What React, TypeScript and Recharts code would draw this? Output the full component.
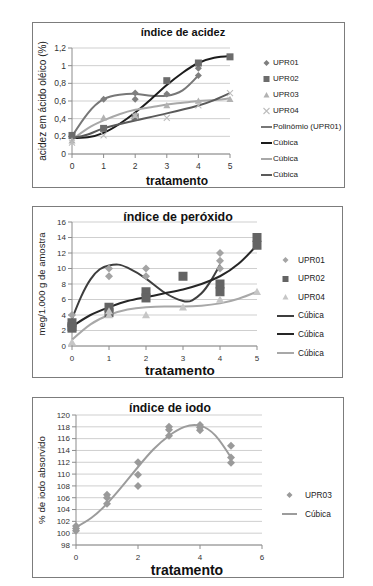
import React from 'react';
import { ComposedChart, Scatter, Line, XAxis, YAxis, CartesianGrid } from 'recharts';

const FONT = '"Liberation Sans", Arial, sans-serif';

type Pt = { x: number; y: number };

// índice de acidez
const acidezXTicks = [0, 1, 2, 3, 4, 5];
const acidezYTicks = [0, 0.2, 0.4, 0.6, 0.8, 1, 1.2];
const acidezUpr01: Pt[] = [
  { x: 0, y: 0.2 }, { x: 1, y: 0.62 }, { x: 2, y: 0.69 }, { x: 2, y: 0.62 },
  { x: 3, y: 0.68 }, { x: 4, y: 0.97 }, { x: 4, y: 0.89 },
];
const acidezUpr02: Pt[] = [
  { x: 0, y: 0.21 }, { x: 1, y: 0.29 }, { x: 2, y: 0.42 }, { x: 3, y: 0.83 }, { x: 4, y: 1.03 }, { x: 5, y: 1.1 },
];
const acidezUpr03: Pt[] = [
  { x: 0, y: 0.15 }, { x: 1, y: 0.41 }, { x: 2, y: 0.44 }, { x: 3, y: 0.55 }, { x: 4, y: 0.6 }, { x: 5, y: 0.62 },
];
const acidezUpr04: Pt[] = [
  { x: 0, y: 0.13 }, { x: 1, y: 0.21 }, { x: 2, y: 0.43 }, { x: 3, y: 0.41 }, { x: 4, y: 0.55 }, { x: 5, y: 0.69 },
];
const acidezPoli01: Pt[] = [
  { x: 0, y: 0.2 }, { x: 0.5, y: 0.46 }, { x: 1, y: 0.62 }, { x: 1.5, y: 0.67 }, { x: 2, y: 0.68 },
  { x: 2.5, y: 0.66 }, { x: 3, y: 0.66 }, { x: 3.5, y: 0.72 }, { x: 4, y: 0.89 },
];
const acidezCub02: Pt[] = [
  { x: 0, y: 0.18 }, { x: 0.5, y: 0.19 }, { x: 1, y: 0.24 }, { x: 1.5, y: 0.34 }, { x: 2, y: 0.47 }, { x: 2.5, y: 0.62 },
  { x: 3, y: 0.78 }, { x: 3.5, y: 0.92 }, { x: 4, y: 1.03 }, { x: 4.5, y: 1.09 }, { x: 5, y: 1.11 },
];
const acidezCub03: Pt[] = [
  { x: 0, y: 0.16 }, { x: 0.5, y: 0.29 }, { x: 1, y: 0.38 }, { x: 1.5, y: 0.45 }, { x: 2, y: 0.5 }, { x: 2.5, y: 0.53 },
  { x: 3, y: 0.56 }, { x: 3.5, y: 0.58 }, { x: 4, y: 0.6 }, { x: 4.5, y: 0.61 }, { x: 5, y: 0.63 },
];
const acidezCub04: Pt[] = [
  { x: 0, y: 0.18 }, { x: 0.5, y: 0.22 }, { x: 1, y: 0.29 }, { x: 2, y: 0.38 }, { x: 3, y: 0.46 },
  { x: 4, y: 0.55 }, { x: 4.5, y: 0.61 }, { x: 5, y: 0.69 },
];

// índice de peróxido
const peroxXTicks = [0, 1, 2, 3, 4, 5];
const peroxYTicks = [0, 2, 4, 6, 8, 10, 12, 14, 16];
const peroxUpr01: Pt[] = [
  { x: 0, y: 4 }, { x: 1, y: 10 }, { x: 1, y: 9 }, { x: 2, y: 10 }, { x: 2, y: 9 },
  { x: 4, y: 12 }, { x: 4, y: 11 }, { x: 4, y: 10 },
];
const peroxUpr02: Pt[] = [
  { x: 0, y: 3 }, { x: 0, y: 2.5 }, { x: 0, y: 2.3 }, { x: 1, y: 5 }, { x: 1, y: 4.3 }, { x: 2, y: 7 }, { x: 2, y: 6.2 },
  { x: 3, y: 9 }, { x: 4, y: 8 }, { x: 4, y: 7 }, { x: 5, y: 14 }, { x: 5, y: 13 },
];
const peroxUpr04: Pt[] = [
  { x: 0, y: 0.5 }, { x: 1, y: 4.5 }, { x: 1, y: 4 }, { x: 2, y: 4 }, { x: 3, y: 5 }, { x: 4, y: 6 }, { x: 5, y: 7 },
];
const peroxCub01: Pt[] = [
  { x: 0, y: 3.5 }, { x: 0.25, y: 6.4 }, { x: 0.5, y: 8.6 }, { x: 0.75, y: 9.9 }, { x: 1, y: 10.4 }, { x: 1.25, y: 10.5 },
  { x: 1.5, y: 10.1 }, { x: 2, y: 8.7 }, { x: 2.5, y: 6.9 }, { x: 3, y: 5.8 }, { x: 3.25, y: 5.9 }, { x: 3.5, y: 6.8 },
  { x: 3.75, y: 8.4 }, { x: 4, y: 10.5 },
];
const peroxCub02: Pt[] = [
  { x: 0, y: 2.5 }, { x: 0.5, y: 4 }, { x: 1, y: 5 }, { x: 1.5, y: 5.8 }, { x: 2, y: 6.3 }, { x: 2.5, y: 6.8 },
  { x: 3, y: 7.3 }, { x: 3.5, y: 8 }, { x: 4, y: 9 }, { x: 4.5, y: 10.6 }, { x: 5, y: 13 },
];
const peroxCub04: Pt[] = [
  { x: 0, y: 0.8 }, { x: 0.5, y: 2.8 }, { x: 1, y: 4 }, { x: 1.5, y: 4.7 }, { x: 2, y: 5 }, { x: 2.5, y: 5.1 },
  { x: 3, y: 5.1 }, { x: 3.5, y: 5.2 }, { x: 4, y: 5.5 }, { x: 4.5, y: 6.1 }, { x: 5, y: 7 },
];

// índice de iodo
const iodoXTicks = [0, 2, 4, 6];
const iodoYTicks = [98, 100, 102, 104, 106, 108, 110, 112, 114, 116, 118, 120];
const iodoUpr03: Pt[] = [
  { x: 0, y: 101.2 }, { x: 0, y: 100.8 }, { x: 0, y: 100.4 }, { x: 1, y: 106.5 }, { x: 1, y: 106 }, { x: 1, y: 105 },
  { x: 2, y: 112 }, { x: 2, y: 109.9 }, { x: 2, y: 108 }, { x: 3, y: 118 }, { x: 3, y: 117.5 }, { x: 3, y: 116.5 },
  { x: 4, y: 118.3 }, { x: 4, y: 117.9 }, { x: 4, y: 117.4 }, { x: 5, y: 114.8 }, { x: 5, y: 112.8 }, { x: 5, y: 111.9 },
];
const iodoCub03: Pt[] = [
  { x: 0, y: 101 }, { x: 0.5, y: 102.6 }, { x: 1, y: 105 }, { x: 1.5, y: 108 }, { x: 2, y: 111.2 }, { x: 2.5, y: 114.2 },
  { x: 3, y: 116.5 }, { x: 3.5, y: 118 }, { x: 4, y: 118.2 }, { x: 4.5, y: 116.5 }, { x: 5, y: 112.8 },
];

const comma = (v: number) => String(v).replace('.', ',');

function marker(kind: string, size: number, color: string) {
  return (p: any) => {
    const { cx, cy } = p;
    if (cx == null || cy == null) return <g />;
    const s = size / 2;
    if (kind === 'diamond')
      return <path d={`M${cx},${cy - s}L${cx + s},${cy}L${cx},${cy + s}L${cx - s},${cy}Z`} fill={color} />;
    if (kind === 'square') return <rect x={cx - s} y={cy - s} width={size} height={size} fill={color} />;
    if (kind === 'triangle')
      return <path d={`M${cx},${cy - s}L${cx + s},${cy + s * 0.8}L${cx - s},${cy + s * 0.8}Z`} fill={color} />;
    return (
      <path
        d={`M${cx - s},${cy - s}L${cx + s},${cy + s}M${cx + s},${cy - s}L${cx - s},${cy + s}`}
        stroke={color}
        strokeWidth={1.1}
        fill="none"
      />
    );
  };
}

type ScatterDef = { name: string; data: Pt[]; kind: string; size: number; color: string };
type LineDef = { name: string; data: Pt[]; color: string; width: number };

type PanelProps = {
  box: { left: number; top: number; width: number; height: number };
  margin: { top: number; right: number };
  yAxisWidth: number;
  xAxisHeight: number;
  xDomain: [number, number];
  xTicks: number[];
  yDomain: [number, number];
  yTicks: number[];
  yFormat?: (v: number) => string;
  tickSize: number;
  yLabel: string;
  yLabelSize: number;
  title: string;
  titleX: number;
  titleY: number;
  titleSize: number;
  xLabelX: number;
  xLabelY: number;
  xLabelSize: number;
  scatters: ScatterDef[];
  lines: LineDef[];
  legendOrder: (ScatterDef | LineDef)[];
  legend: { iconLeft: number; iconW: number; textLeft: number; firstY: number; step: number; fontSize: number };
};

function CenteredText(props: { x: number; y: number; size: number; text: string }) {
  return (
    <div
      style={{
        position: 'absolute',
        left: props.x - 100,
        width: 200,
        top: props.y - props.size * 0.6,
        textAlign: 'center',
        fontFamily: FONT,
        fontWeight: 'bold',
        fontSize: props.size,
        lineHeight: `${props.size * 1.2}px`,
        color: '#111',
      }}
    >
      {props.text}
    </div>
  );
}

function Panel(p: PanelProps) {
  const { box, legend } = p;
  return (
    <>
      <div
        style={{
          position: 'absolute',
          left: box.left,
          top: box.top,
          width: box.width,
          height: box.height,
          border: '1px solid #7c7c7c',
          boxSizing: 'border-box',
          background: '#fff',
        }}
      />
      <div style={{ position: 'absolute', left: box.left, top: box.top }}>
        <ComposedChart
          width={box.width}
          height={box.height}
          margin={{ top: p.margin.top, right: p.margin.right, left: 0, bottom: 0 }}
        >
          <CartesianGrid vertical={false} stroke="#cfcfcf" />
          <XAxis
            type="number"
            dataKey="x"
            domain={p.xDomain}
            ticks={p.xTicks}
            interval={0}
            height={p.xAxisHeight}
            stroke="#8c8c8c"
            tickSize={4}
            tickMargin={5}
            tick={{ fill: '#333', fontSize: p.tickSize, fontFamily: FONT }}
          />
          <YAxis
            type="number"
            dataKey="y"
            domain={p.yDomain}
            ticks={p.yTicks}
            interval={0}
            width={p.yAxisWidth}
            stroke="#8c8c8c"
            tickSize={4}
            tickFormatter={p.yFormat}
            tick={{ fill: '#333', fontSize: p.tickSize, fontFamily: FONT }}
            label={{
              value: p.yLabel,
              angle: -90,
              position: 'insideLeft',
              offset: 10,
              style: { textAnchor: 'middle', fontSize: p.yLabelSize, fill: '#222', fontFamily: FONT },
            }}
          />
          {p.scatters.map((s) => (
            <Scatter
              key={s.name}
              name={s.name}
              data={s.data}
              fill={s.color}
              shape={marker(s.kind, s.size, s.color)}
              isAnimationActive={false}
            />
          ))}
          {p.lines.map((l, i) => (
            <Line
              key={l.name + i}
              data={l.data}
              dataKey="y"
              type="natural"
              stroke={l.color}
              strokeWidth={l.width}
              dot={false}
              activeDot={false}
              isAnimationActive={false}
            />
          ))}
        </ComposedChart>
      </div>
      <CenteredText x={p.titleX} y={p.titleY} size={p.titleSize} text={p.title} />
      <CenteredText x={p.xLabelX} y={p.xLabelY} size={p.xLabelSize} text="tratamento" />
      {p.legendOrder.map((item, i) => {
        const cy = legend.firstY + i * legend.step;
        const isScatter = 'kind' in item;
        const mid = legend.iconW / 2;
        return (
          <div key={i}>
            <svg
              style={{ position: 'absolute', left: legend.iconLeft, top: cy - 6 }}
              width={legend.iconW}
              height={12}
            >
              {isScatter
                ? marker((item as ScatterDef).kind, Math.min((item as ScatterDef).size, 6), item.color)({ cx: mid, cy: 6 })
                : <line x1={0} x2={legend.iconW} y1={6} y2={6} stroke={item.color} strokeWidth={(item as LineDef).width} />}
            </svg>
            <div
              style={{
                position: 'absolute',
                left: legend.textLeft,
                top: cy - legend.fontSize * 0.65,
                fontFamily: FONT,
                fontSize: legend.fontSize,
                lineHeight: `${legend.fontSize * 1.3}px`,
                color: '#222',
                whiteSpace: 'nowrap',
              }}
            >
              {item.name}
            </div>
          </div>
        );
      })}
    </>
  );
}

export default function App() {
  const a01: ScatterDef = { name: 'UPR01', data: acidezUpr01, kind: 'diamond', size: 7, color: '#7f7f7f' };
  const a02: ScatterDef = { name: 'UPR02', data: acidezUpr02, kind: 'square', size: 7, color: '#6c6c6c' };
  const a03: ScatterDef = { name: 'UPR03', data: acidezUpr03, kind: 'triangle', size: 7, color: '#b2b2b2' };
  const a04: ScatterDef = { name: 'UPR04', data: acidezUpr04, kind: 'x', size: 6, color: '#bdbdbd' };
  const aL1: LineDef = { name: 'Polinômio (UPR01)', data: acidezPoli01, color: '#777777', width: 2 };
  const aL2: LineDef = { name: 'Cúbica', data: acidezCub02, color: '#1c1c1c', width: 2 };
  const aL3: LineDef = { name: 'Cúbica', data: acidezCub03, color: '#a8a8a8', width: 2 };
  const aL4: LineDef = { name: 'Cúbica', data: acidezCub04, color: '#5a5a5a', width: 2 };

  const p01: ScatterDef = { name: 'UPR01', data: peroxUpr01, kind: 'diamond', size: 8, color: '#a4a4a4' };
  const p02: ScatterDef = { name: 'UPR02', data: peroxUpr02, kind: 'square', size: 9, color: '#646464' };
  const p04: ScatterDef = { name: 'UPR04', data: peroxUpr04, kind: 'triangle', size: 8, color: '#c6c6c6' };
  const pL1: LineDef = { name: 'Cúbica', data: peroxCub01, color: '#3e3e3e', width: 2 };
  const pL2: LineDef = { name: 'Cúbica', data: peroxCub02, color: '#262626', width: 2 };
  const pL4: LineDef = { name: 'Cúbica', data: peroxCub04, color: '#a8a8a8', width: 2 };

  const i03: ScatterDef = { name: 'UPR03', data: iodoUpr03, kind: 'diamond', size: 8, color: '#9a9a9a' };
  const iL3: LineDef = { name: 'Cúbica', data: iodoCub03, color: '#9c9c9c', width: 2 };

  return (
    <div style={{ position: 'absolute', left: 0, top: 0, width: 373, height: 586, background: '#fff', overflow: 'hidden' }}>
      <Panel
        box={{ left: 32, top: 22, width: 313, height: 166 }}
        margin={{ top: 26, right: 115 }}
        yAxisWidth={40}
        xAxisHeight={34}
        xDomain={[0, 5]}
        xTicks={acidezXTicks}
        yDomain={[0, 1.2]}
        yTicks={acidezYTicks}
        yFormat={comma}
        tickSize={8.5}
        yLabel="acidez em ácido oléico (%)"
        yLabelSize={10}
        title="índice de acidez"
        titleX={183}
        titleY={33}
        titleSize={11}
        xLabelX={177}
        xLabelY={181}
        xLabelSize={12}
        scatters={[a01, a02, a03, a04]}
        lines={[aL1, aL2, aL3, aL4]}
        legendOrder={[a01, a02, a03, a04, aL1, aL2, aL3, aL4]}
        legend={{ iconLeft: 261, iconW: 11, textLeft: 273, firstY: 63, step: 16, fontSize: 8 }}
      />
      <Panel
        box={{ left: 32, top: 206, width: 311, height: 172 }}
        margin={{ top: 16, right: 86 }}
        yAxisWidth={40}
        xAxisHeight={32}
        xDomain={[0, 5]}
        xTicks={peroxXTicks}
        yDomain={[0, 16]}
        yTicks={peroxYTicks}
        tickSize={8}
        yLabel="meg/1.000 g de amostra"
        yLabelSize={9.5}
        title="índice de peróxido"
        titleX={178}
        titleY={217}
        titleSize={12.4}
        xLabelX={180}
        xLabelY={371}
        xLabelSize={13.5}
        scatters={[p01, p02, p04]}
        lines={[pL1, pL2, pL4]}
        legendOrder={[p01, p02, p04, pL1, pL2, pL4]}
        legend={{ iconLeft: 277, iconW: 17, textLeft: 298, firstY: 260, step: 18.6, fontSize: 8.3 }}
      />
      <Panel
        box={{ left: 32, top: 397, width: 312, height: 181 }}
        margin={{ top: 18, right: 82 }}
        yAxisWidth={44}
        xAxisHeight={33}
        xDomain={[0, 6]}
        xTicks={iodoXTicks}
        yDomain={[98, 120]}
        yTicks={iodoYTicks}
        tickSize={8}
        yLabel="% de iodo absorvido"
        yLabelSize={9.7}
        title="índice de iodo"
        titleX={170}
        titleY={408}
        titleSize={12.2}
        xLabelX={187}
        xLabelY={570}
        xLabelSize={14}
        scatters={[i03]}
        lines={[iL3]}
        legendOrder={[i03, iL3]}
        legend={{ iconLeft: 282, iconW: 15, textLeft: 305, firstY: 495, step: 19, fontSize: 8.3 }}
      />
    </div>
  );
}
